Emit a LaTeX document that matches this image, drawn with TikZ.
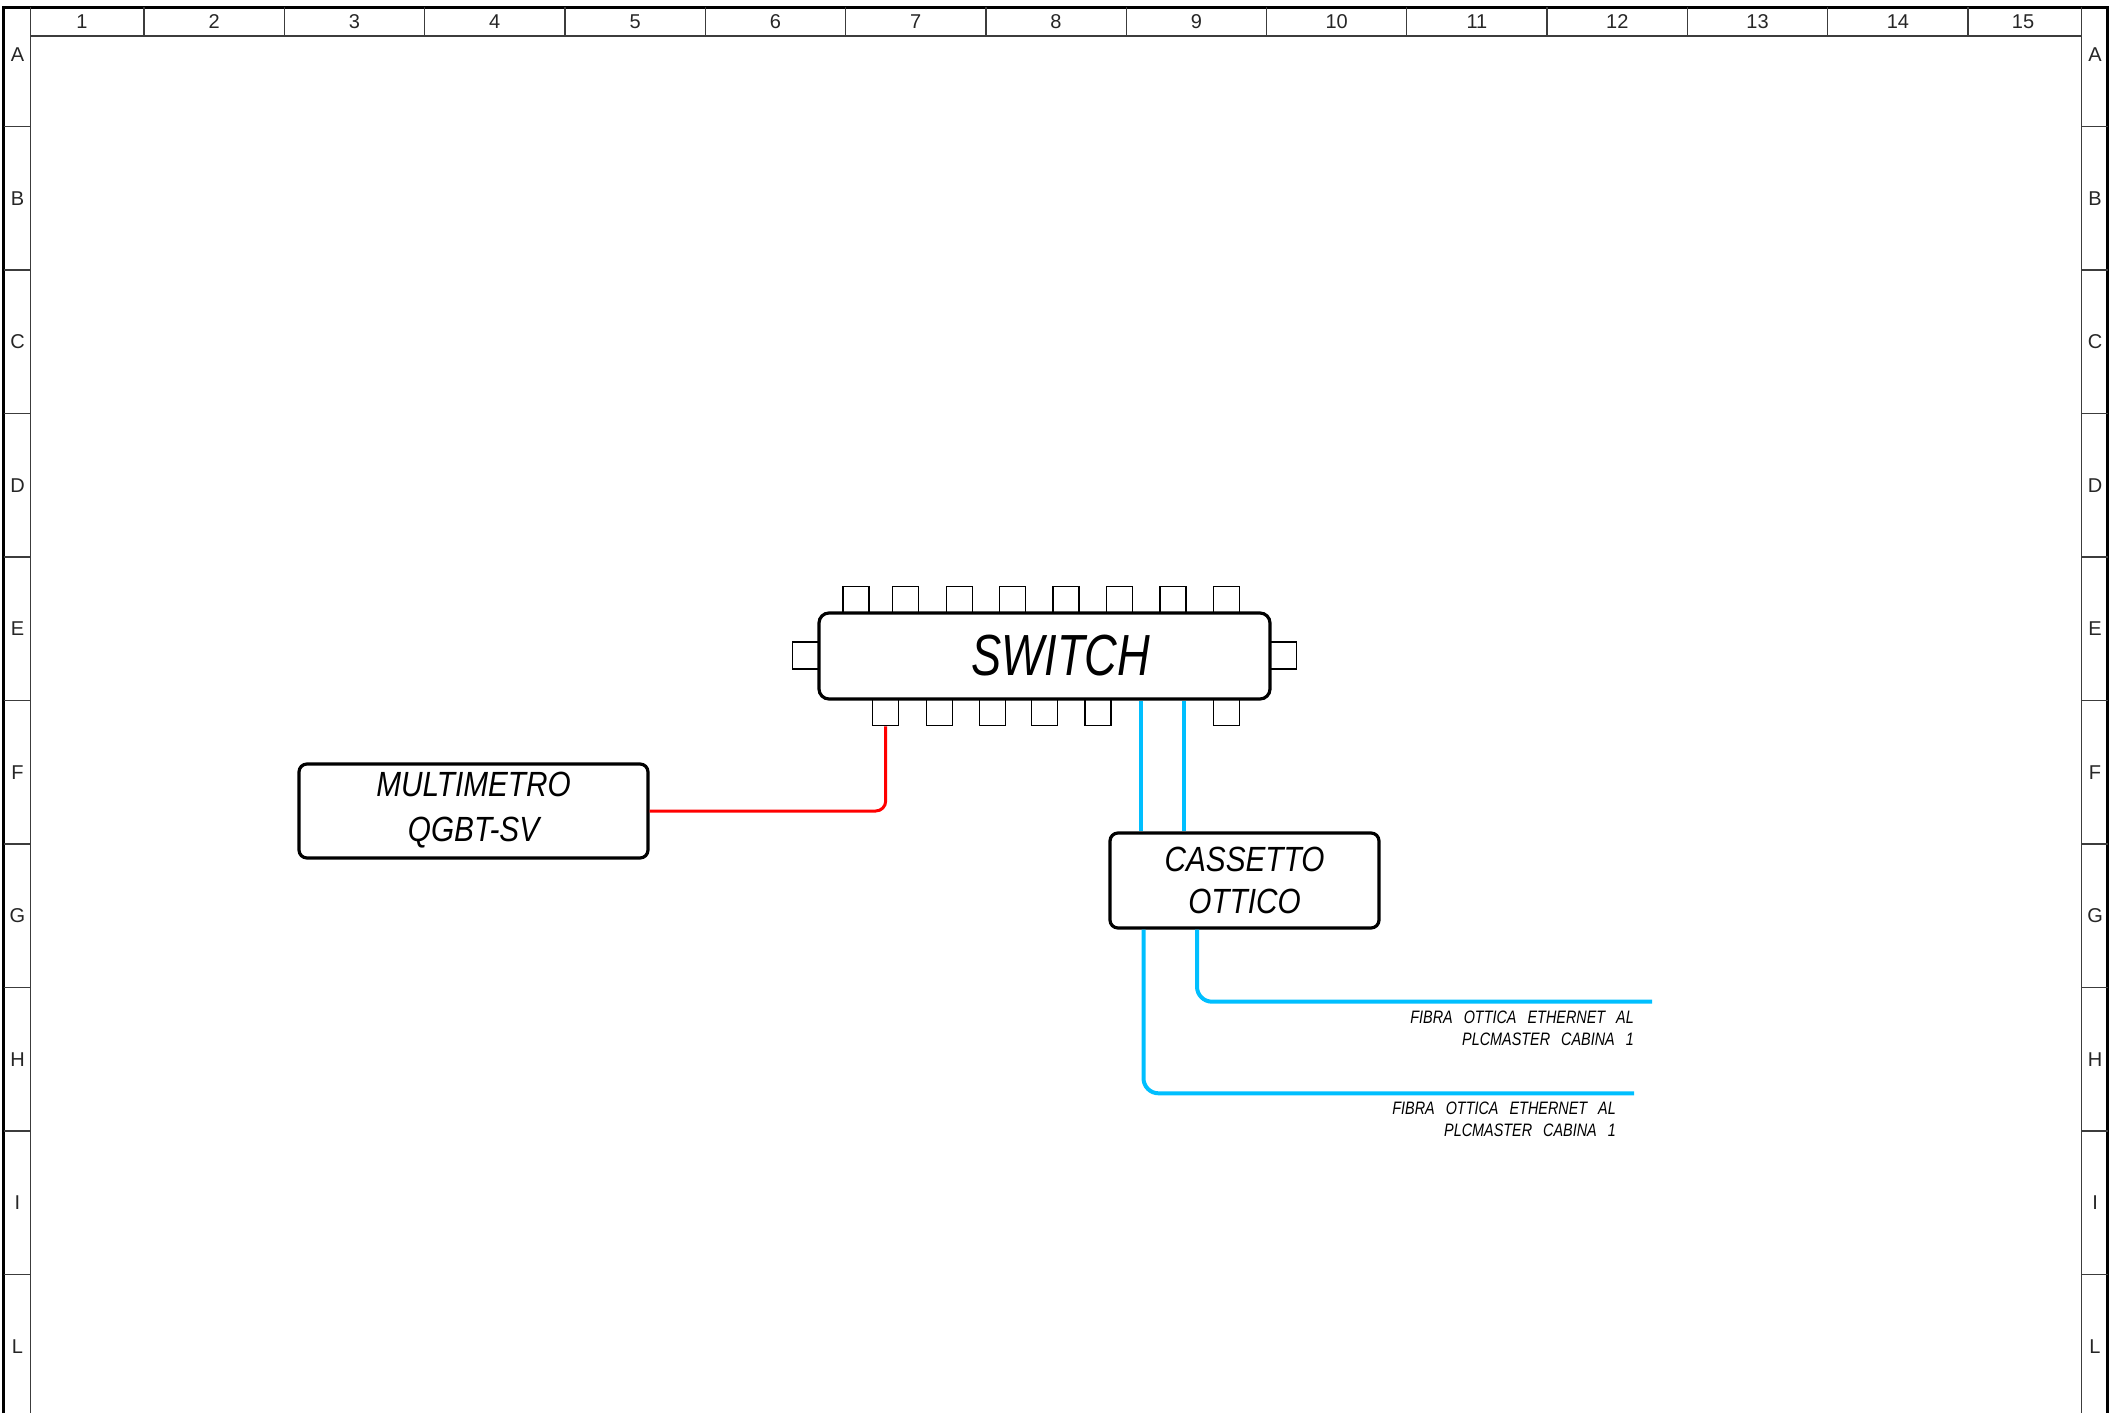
\documentclass[tikz,border=0pt]{standalone}
\usepackage{fontspec}
\setmainfont{Liberation Sans}
\newfontfamily\cadA[FakeStretch=0.85]{Liberation Sans}
\newfontfamily\cadB[FakeStretch=0.78]{Liberation Sans}
\newfontfamily\cadC[FakeStretch=0.8]{Liberation Sans}
\definecolor{fibercol}{RGB}{0,191,255}
\definecolor{framegray}{RGB}{60,60,60}
\tikzset{
  outerframe/.style={line width=3.5, black},
  innerframe/.style={line width=1.3, framegray},
  framelbl/.style={inner sep=0, font=\fontsize{20}{22}\selectfont, text=black!85},
  box/.style={draw, line width=3.2, fill=white, inner sep=0},
  port/.style={draw, line width=1.3, fill=white, minimum width=26, minimum height=26, inner sep=0},
  bigtext/.style={font=\cadA\itshape\fontsize{35}{45}\selectfont, align=center},
  ethline/.style={red, line width=3, rounded corners=10},
  fiberline/.style={fibercol, line width=4, rounded corners=15},
  lbl/.style={inner sep=0, align=right, font=\cadC\itshape\fontsize{18}{22.5}\selectfont}
}
\begin{document}
\begin{tikzpicture}[x=1pt,y=-1pt]
\useasboundingbox (0,0) rectangle (2111,1413);
% frame
\draw[outerframe] (3.7,1413) -- (3.7,7.5) -- (2107.5,7.5) -- (2107.5,1413);
\draw[innerframe] (30.7,7.5) -- (30.7,1413);
\draw[innerframe] (2081.7,7.5) -- (2081.7,1413);
\draw[innerframe] (30.7,36) -- (2081.7,36);
\foreach \i in {0,...,13} \draw[innerframe] (144+\i*140.31,7.5) -- (144+\i*140.31,36);
\node[framelbl] (col1) at (82,22) {1};
\foreach \k in {2,...,14} \node[framelbl] (col\k) at (144+\k*140.31-1.5*140.31,22) {\k};
\node[framelbl] (col15) at (2023,22) {15};
\foreach \j in {0,...,8} {
  \draw[innerframe] (3.7,126.5+\j*143.5) -- (30.7,126.5+\j*143.5);
  \draw[innerframe] (2081.7,126.5+\j*143.5) -- (2107.5,126.5+\j*143.5);
}
\foreach \r [count=\j from 0] in {A,B,C,D,E,F,G,H,I,L} {
  \node[framelbl] (rl\r) at (17.5,54.75+\j*143.5) {\r};
  \node[framelbl] (rr\r) at (2095,54.75+\j*143.5) {\r};
}
% switch ports
\foreach \x [count=\i] in {856,905.8,959.3,1012.6,1066,1119.4,1173,1226.4}
  \node[port, anchor=south] (t\i) at (\x,613) {};
\foreach \x [count=\i] in {885.7,939.2,992.3,1044.6,1098,1226.4}
  \node[port, anchor=north] (b\i) at (\x,699) {};
\node[port, anchor=east, minimum height=27] (pl) at (819,655.5) {};
\node[port, anchor=west, minimum height=27] (pr) at (1270,655.5) {};
% switch
\node[box, minimum width=451, minimum height=86, rounded corners=10,
      font=\cadB\itshape\fontsize{58}{60}\selectfont] (sw) at (1044.5,656) {\hspace*{33pt}SWITCH};
% multimetro
\node[box, bigtext, text depth=8.5pt, minimum width=349, minimum height=94, rounded corners=8] (mult) at (473.5,811) {MULTIMETRO\\QGBT-SV};
% cassetto
\node[box, bigtext, font=\cadA\itshape\fontsize{35}{42}\selectfont, minimum width=269, minimum height=95, rounded corners=8] (cas) at (1244.5,880.5) {CASSETTO\\OTTICO};
% connections
\draw[ethline] (b1.south) |- (mult.east);
\draw[fiberline] ([xshift=96.5]sw.south) -- ([xshift=96.5]sw.south |- cas.north);
\draw[fiberline] ([xshift=139.5]sw.south) -- ([xshift=139.5]sw.south |- cas.north);
\coordinate (e1) at (1652,1001.7);
\coordinate (e2) at (1634,1093.3);
\draw[fiberline] ([xshift=-47.5]cas.south) |- (e1);
\draw[fiberline] ([xshift=-101]cas.south) |- (e2);
% labels
\node[lbl, anchor=north east] (l1) at (1634,1010.5) {FIBRA\hspace{11pt}OTTICA\hspace{11pt}ETHERNET\hspace{11pt}AL\\PLCMASTER\hspace{11pt}CABINA\hspace{11pt}1};
\node[lbl, anchor=north east] (l2) at (1616,1101.7) {FIBRA\hspace{11pt}OTTICA\hspace{11pt}ETHERNET\hspace{11pt}AL\\PLCMASTER\hspace{11pt}CABINA\hspace{11pt}1};
\end{tikzpicture}
\end{document}
